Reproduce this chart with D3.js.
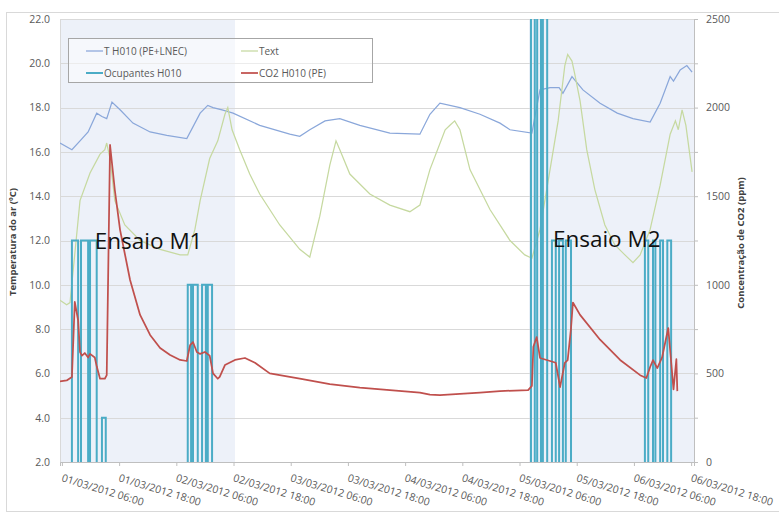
<!DOCTYPE html>
<html>
<head>
<meta charset="utf-8">
<script src="https://cdn.jsdelivr.net/npm/d3@7"></script>
<style>
body{margin:0;background:#fff;}
text{font-family:"Open Sans",sans-serif;}
</style>
</head>
<body>
<svg id="chart" width="779" height="517"></svg>
<script>
// data (x = hours since 01/03/2012 00:00)
var tickHours = [6,18,30,42,54,66,78,90,102,114,126,138];
var tickLabels = ['01/03/2012 06:00','01/03/2012 18:00','02/03/2012 06:00','02/03/2012 18:00',
    '03/03/2012 06:00','03/03/2012 18:00','04/03/2012 06:00','04/03/2012 18:00',
    '05/03/2012 06:00','05/03/2012 18:00','06/03/2012 06:00','06/03/2012 18:00'];
var tempTicks = [2,4,6,8,10,12,14,16,18,20,22];
var co2Ticks = [0,500,1000,1500,2000,2500];

var seriesNames = ['T H010 (PE+LNEC)','Text','Ocupantes H010','CO2 H010 (PE)'];

var tH010 = [[5.6,16.4],[8.1,16.1],[9.8,16.5],[11.5,16.9],[13.3,17.75],[14.4,17.6],[15.4,17.5],[16.5,18.25],
    [18.2,17.9],[20.9,17.3],[24.5,16.9],[28.0,16.75],[32.2,16.6],[35.0,17.75],[36.6,18.1],[37.7,18.0],
    [39.6,17.9],[41.9,17.75],[47.5,17.2],[53.8,16.8],[55.9,16.7],[58.0,17.0],[61.2,17.4],[64.3,17.5],
    [68.5,17.2],[74.8,16.85],[81.1,16.8],[83.2,17.7],[85.3,18.2],[89.5,18.0],[93.7,17.7],[97.9,17.3],
    [100.0,17.0],[104.6,16.85],[105.4,17.8],[106.3,18.8],[108.4,18.9],[110.3,18.9],[111.1,18.65],
    [113.0,19.4],[115.3,18.8],[118.9,18.2],[122.5,17.75],[125.8,17.5],[129.4,17.35],[131.5,18.2],
    [133.6,19.4],[134.3,19.2],[135.7,19.7],[137.1,19.9],[138.2,19.6]];

var tExt = [[5.6,9.3],[7.0,9.1],[7.7,9.2],[9.8,13.8],[11.9,15.05],[14.0,15.9],[15.0,16.1],[15.4,16.4],
    [16.1,15.7],[17.1,13.8],[19.2,12.7],[22.4,12.0],[26.6,11.6],[30.8,11.35],[32.4,11.35],[33.9,12.5],
    [35.0,13.8],[37.0,15.7],[38.7,16.5],[40.2,17.7],[40.8,18.0],[41.7,17.0],[43.3,16.1],[45.4,15.0],
    [47.5,14.1],[51.7,12.7],[55.9,11.6],[58.0,11.25],[60.1,13.1],[62.2,15.4],[63.5,16.5],[64.3,16.1],
    [66.4,15.0],[70.6,14.1],[74.8,13.6],[79.0,13.3],[81.1,13.6],[83.2,15.2],[86.4,17.0],[87.4,17.2],
    [88.4,17.4],[89.5,17.0],[91.6,15.2],[95.8,13.4],[100.0,12.0],[103.1,11.35],[104.6,11.2],[106.3,12.5],
    [108.4,15.2],[110.1,17.4],[111.5,19.9],[112.1,20.4],[113.0,20.1],[113.6,19.5],[114.7,18.3],[116.1,16.1],
    [117.8,14.3],[119.9,12.7],[122.0,11.8],[124.1,11.35],[125.8,11.0],[127.3,11.35],[129.4,12.5],
    [131.5,14.5],[133.6,16.8],[134.7,17.4],[135.3,17.0],[136.1,17.9],[136.9,17.2],[138.2,15.1]];

// occupancy, change points (step after)
var ocupantes = [[5.6,0],[8.1,12],[9.4,0],[10.0,12],[11.5,0],[11.9,12],[13.3,0],[14.4,4],[15.2,0],
    [32.4,10],[33.1,0],[33.5,10],[34.5,0],[35.4,10],[36.2,0],[36.6,10],[37.5,0],
    [104.4,24],[105.2,0],[105.7,24],[106.5,0],[106.9,24],[107.8,0],
    [108.8,12],[109.6,0],[110.3,12],[111.1,0],[111.7,12],[112.8,0],
    [128.3,12],[129.0,0],[130.0,12],[130.5,0],[131.5,12],[132.1,0],[133.0,12],[133.8,0],[138.6,0]];

var co2H010 = [[5.6,455],[7.0,460],[8.1,480],[8.7,903],[9.4,800],[9.8,620],[10.2,600],[10.8,615],
    [11.5,590],[11.9,610],[12.9,590],[13.3,540],[14.0,470],[15.0,470],[15.4,490],[16.1,1789],[17.1,1535],
    [18.2,1310],[20.3,1027],[22.4,830],[24.5,717],[26.6,643],[28.7,604],[30.8,576],[32.2,570],[32.9,660],
    [33.5,677],[34.3,621],[35.0,610],[36.0,621],[37.0,600],[37.7,500],[38.7,470],[39.1,480],[40.2,547],
    [42.3,576],[44.4,587],[46.5,560],[49.6,500],[55.9,470],[62.2,440],[68.5,420],[74.8,405],[81.1,392],
    [83.2,380],[85.3,378],[89.5,385],[93.7,392],[97.9,400],[103.8,406],[104.6,430],[104.9,650],[105.6,705],
    [106.3,587],[108.4,570],[109.6,560],[110.5,423],[111.5,560],[112.1,575],[112.8,756],[113.2,900],
    [114.7,830],[118.9,690],[123.1,576],[127.3,490],[128.6,474],[129.4,536],[130.0,575],[130.9,530],
    [131.9,590],[133.2,756],[134.3,410],[134.9,580],[135.1,400]];

var ensaios = [{label:'Ensaio M1', from:5.6, to:42.3}, {label:'Ensaio M2', from:104.0, to:138.6}];
// END data

var svg = d3.select('#chart');
var plotLeft = 60, plotRight = 694, plotTop = 19, plotBottom = 462;

var x = d3.scaleLinear().domain([5.6,138.6]).range([plotLeft,plotRight]);
var yT = d3.scaleLinear().domain([2,22]).range([plotBottom,plotTop]);
var yC = d3.scaleLinear().domain([0,2500]).range([plotBottom,plotTop]);

// outer border
svg.append('rect').attr('x',6.5).attr('y',12.5).attr('width',790).attr('height',499)
    .attr('fill','none').attr('stroke','#d9d9d9');

svg.append('clipPath').attr('id','plotClip').append('rect')
    .attr('x',plotLeft).attr('y',plotTop).attr('width',plotRight-plotLeft).attr('height',plotBottom-plotTop);

// shaded test periods
svg.selectAll('.shade').data(ensaios).enter().append('rect')
    .attr('class','shade')
    .attr('x',function(d){ return x(d.from); })
    .attr('y',plotTop)
    .attr('width',function(d){ return x(d.to)-x(d.from); })
    .attr('height',plotBottom-plotTop)
    .attr('fill','#edf1f9');

// grid
svg.selectAll('.grid').data(tempTicks).enter().append('line')
    .attr('x1',plotLeft).attr('x2',plotRight)
    .attr('y1',function(d){ return Math.round(yT(d))+0.5; })
    .attr('y2',function(d){ return Math.round(yT(d))+0.5; })
    .attr('stroke','#d9d9d9');

// axes
var axisL = svg.append('g').attr('transform','translate('+plotLeft+',0)')
    .call(d3.axisLeft(yT).tickValues(tempTicks).tickFormat(d3.format('.1f')).tickSize(0).tickPadding(10));
var axisR = svg.append('g').attr('transform','translate('+plotRight+',0)')
    .call(d3.axisRight(yC).tickValues(d3.range(0,2501,250)).tickSize(4).tickPadding(8)
        .tickFormat(function(d){ return co2Ticks.indexOf(d) >= 0 ? d : ''; }));
var axisB = svg.append('g').attr('transform','translate(0,'+plotBottom+')')
    .call(d3.axisBottom(x).tickValues(tickHours).tickSize(4).tickFormat(''));

[axisL,axisR,axisB].forEach(function(a){
    a.select('.domain').attr('stroke','#bfbfbf');
    a.selectAll('.tick line').attr('stroke','#bfbfbf');
    a.selectAll('.tick text').attr('fill','#595959').style('font-size','10.5px');
});
axisL.select('.domain').attr('stroke','#d9d9d9');

// rotated date labels
svg.selectAll('.xlab').data(tickHours).enter().append('text')
    .attr('transform',function(d){ return 'translate('+(x(d)-1)+',481) rotate(17)'; })
    .attr('fill','#595959').style('font-size','10.5px')
    .text(function(d,i){ return tickLabels[i]; });

// axis titles
svg.append('text').attr('transform','translate(16,242) rotate(-90)')
    .attr('text-anchor','middle').attr('fill','#404040')
    .style('font-size','9.5px').style('font-weight','bold')
    .text('Temperatura do ar (ºC)');
svg.append('text').attr('transform','translate(744,243) rotate(-90)')
    .attr('text-anchor','middle').attr('fill','#404040')
    .style('font-size','9.5px').style('font-weight','bold')
    .text('Concentração de CO2 (ppm)');

// series
var plot = svg.append('g').attr('clip-path','url(#plotClip)');
var lineT = d3.line().x(function(d){ return x(d[0]); }).y(function(d){ return yT(d[1]); });
var lineC = d3.line().x(function(d){ return x(d[0]); }).y(function(d){ return yC(d[1]); });
var lineStep = d3.line().curve(d3.curveStepAfter)
    .x(function(d){ return x(d[0]); }).y(function(d){ return yT(d[1]); });

var legendColors = ['#8aa7da','#c6d9a0','#4bacc6','#c0504d'];
var legendWidths = [1.25,1.25,2,1.75];

plot.append('path').datum(tH010).attr('d',lineT)
    .attr('fill','none').attr('stroke',legendColors[0]).attr('stroke-width',legendWidths[0]);
plot.append('path').datum(tExt).attr('d',lineT)
    .attr('fill','none').attr('stroke',legendColors[1]).attr('stroke-width',legendWidths[1]);
plot.append('path').datum(ocupantes).attr('d',lineStep)
    .attr('fill','none').attr('stroke',legendColors[2]).attr('stroke-width',legendWidths[2]);
plot.append('path').datum(co2H010).attr('d',lineC)
    .attr('fill','none').attr('stroke',legendColors[3]).attr('stroke-width',legendWidths[3])
    .attr('stroke-linejoin','round');

// labels of the test periods
svg.append('text').attr('x',x(12.9)).attr('y',yT(11.6))
    .attr('fill','#111').style('font-size','22.5px').text(ensaios[0].label);
svg.append('text').attr('x',x(109.0)).attr('y',yT(11.7))
    .attr('fill','#111').style('font-size','22.5px').text(ensaios[1].label);

// legend
var legend = svg.append('g').attr('transform','translate(68,38)');
legend.append('rect').attr('x',0.5).attr('y',0.5).attr('width',304).attr('height',44)
    .attr('fill','#fff').attr('fill-opacity',0.5).attr('stroke','#a6a6a6');
seriesNames.forEach(function(name,i){
    var col = i % 2, row = Math.floor(i / 2);
    var g = legend.append('g').attr('transform','translate('+(col*155+18)+','+(row*22+13)+')');
    g.append('line').attr('x1',0).attr('x2',17).attr('y1',0).attr('y2',0)
        .attr('stroke',legendColors[i]).attr('stroke-width',legendWidths[i]);
    g.append('text').attr('x',18).attr('y',4).attr('fill','#595959')
        .style('font-size','10px').text(name);
});
</script>
</body>
</html>
